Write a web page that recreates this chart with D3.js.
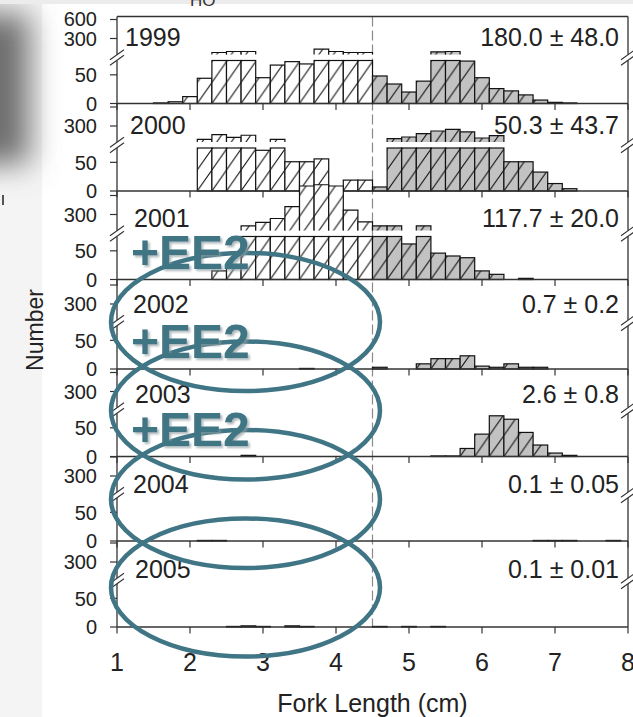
<!DOCTYPE html>
<html><head><meta charset="utf-8">
<script src="https://cdn.jsdelivr.net/npm/d3@7"></script>
<style>
body{margin:0;background:#fff}
svg{display:block}
text{font-family:"Liberation Sans",Arial,Helvetica,sans-serif}
</style>
</head><body>
<svg id="chart" width="633" height="717"></svg>
<script>
// ---------------- data ----------------
const years = ["1999","2000","2001","2002","2003","2004","2005"];
const densityLabels = ["180.0 ± 48.0","50.3 ± 43.7","117.7 ± 20.0","0.7 ± 0.2","2.6 ± 0.8","0.1 ± 0.05","0.1 ± 0.01"];
const binStarts = [1.5,1.7,1.9,2.1,2.3,2.5,2.7,2.9,3.1,3.3,3.5,3.7,3.9,4.1,4.3,4.5,4.7,4.9,5.1,5.3,5.5,5.7,5.9,6.1,6.3,6.5,6.7,6.9,7.1,7.3,7.5,7.7];
const binWidth = 0.2;
const counts1999 = [1,3,12,44,103,117,117,45,67,73,69,150,117,103,103,48,34,20,39,113,117,74,45,26,22,15,6,2,1,0,0,0];
const counts2000 = [0,0,0,113,178,140,170,71,113,51,51,56,7,19,19,7,122,145,192,230,253,216,131,164,51,51,33,13,4,0,0,0];
const counts2001 = [0,0,0,0,15,26,141,188,244,425,750,770,750,370,197,141,141,62,141,46,41,38,15,9,0,2,0,0,0,0,0,0];
const counts2002 = [0,0,0,0,0,0,0,0,0,0,1,0,0,0,0,3,0,0,9,18,18,23,5,3,9,3,3,0,0,0,0,0];
const counts2003 = [0,0,0,0,0,0,2,0,0,0,0,0,0,0,0,0,0,0,0,1,1,14,39,71,65,42,20,6,2,0,0,0];
const counts2004 = [0,0,0,1,1,0,0,0,0,0,0,0,0,0,0,0,0,0,0,0,0,0,0,0,0,0,1,1,1,0,0,1];
const counts2005 = [0,0,0,0,0,1,2,1,0,2,1,0,0,0,0,1,0,1,0,1,0,0,0,0,0,0,0,0,0,0,0,0];
const xTicks = [1,2,3,4,5,6,7,8];
const yTicks = [0,50,300,600];
const splitLength = 4.5;
const treatedYears = ["2001","2002","2003"];      // "+EE2" notes
const circledYears = ["2002","2003","2004","2005"]; // ellipses
const treatmentLabel = "+EE2";

const countsByYear = [counts1999,counts2000,counts2001,counts2002,counts2003,counts2004,counts2005];

// ---------------- layout ----------------
const W = 633, H = 717;
const plotTop = 16.5;
const panelBaselines = [103.5, 191, 279.5, 369, 456.5, 541, 627];   // stacked panel layout
const panelLabelY = [45.5, 133.5, 226.5, 312.5, 402.5, 492.5, 578];  // panel caption baselines
const panelLabelX = [125, 130, 134, 133, 135, 133, 135];
const base = d3.scaleLinear().domain(d3.range(years.length)).range(panelBaselines);
const lastBase = base(years.length - 1);
const panelTop = i => i === 0 ? plotTop : base(i - 1);
const x = d3.scaleLinear().domain([1,8]).range([117,628]);
const BREAK = 75;
const yLow = d3.scaleLinear().domain([0, BREAK]).range([0, -43]);
const yUp = d3.scaleLinear().domain([BREAK, 300, 600]).range([-49, -65, -84]);
const yPos = v => v <= BREAK ? yLow(v) : yUp(v);
const ellipseY = d3.scaleLinear().domain([0, circledYears.length - 1]).range([322, 587.5]);
const ink = "#222", teal = "#3f7584";

const svg = d3.select("#chart");
const defs = svg.append("defs");
const pw = x(binStarts[1]) - x(binStarts[0]);
const pat = defs.append("pattern").attr("id","hatch").attr("patternUnits","userSpaceOnUse")
  .attr("x", x(binStarts[0])).attr("y", 0).attr("width", pw).attr("height", 21);
pat.append("path").attr("d", `M0,21 L${pw},0 M${-pw},21 L0,0 M${pw},21 L${2*pw},0`)
  .attr("stroke", "#111").attr("stroke-width", 1).attr("fill","none");
defs.append("filter").attr("id","blur").attr("x","-100%").attr("y","-100%").attr("width","300%").attr("height","300%")
  .append("feGaussianBlur").attr("stdDeviation", 15);
const sh = defs.append("filter").attr("id","tshadow").attr("x","-20%").attr("y","-20%").attr("width","140%").attr("height","150%");
sh.append("feDropShadow").attr("dx",2).attr("dy",2).attr("stdDeviation",1.2).attr("flood-color","#8a9aa0").attr("flood-opacity",0.7);

// background (slide artefacts)
svg.append("rect").attr("width",W).attr("height",H).attr("fill","#fff");
svg.append("rect").attr("x",0).attr("y",0).attr("width",42).attr("height",H).attr("fill","#f4f4f4");
svg.append("rect").attr("x",-45).attr("y",14).attr("width",74).attr("height",150).attr("fill","#6e6e6e").attr("filter","url(#blur)");
svg.append("rect").attr("x",0).attr("y",0).attr("width",W).attr("height",4).attr("fill","#ececec");
svg.append("rect").attr("x",2).attr("y",195).attr("width",2).attr("height",10).attr("fill","#555");
svg.append("text").attr("x",190).attr("y",6).attr("font-size",17).attr("fill","#333").text("HO");

// dashed divider
svg.append("line").attr("x1",x(splitLength)).attr("x2",x(splitLength))
  .attr("y1",plotTop).attr("y2",lastBase).attr("stroke","#8a8a8a").attr("stroke-width",1.2)
  .attr("stroke-dasharray","10,4");

// top frame line
svg.append("line").attr("x1",x(1)).attr("x2",x(8)).attr("y1",plotTop).attr("y2",plotTop)
  .attr("stroke","#333").attr("stroke-width",1.3);

years.forEach((yr, i) => {
  const g = svg.append("g").attr("transform", `translate(0,${base(i)})`);
  const top = panelTop(i) - base(i);
  const gapMid = (yLow(BREAK) + yUp(BREAK)) / 2;
  // side axes with break
  [x(1), x(8)].forEach(ax => {
    g.append("line").attr("x1",ax).attr("x2",ax).attr("y1",0).attr("y2",gapMid+3)
      .attr("stroke","#333").attr("stroke-width",1.3);
    g.append("line").attr("x1",ax).attr("x2",ax).attr("y1",gapMid-3).attr("y2",top)
      .attr("stroke","#333").attr("stroke-width",1.3);
    [-2.8, 2.8].forEach(o => {
      g.append("line").attr("x1",ax-7).attr("x2",ax+7).attr("y1",gapMid+o+5).attr("y2",gapMid+o-5)
        .attr("stroke","#333").attr("stroke-width",1.1);
    });
  });
  // y ticks
  yTicks.forEach(t => {
    g.append("line").attr("x1",x(1)-7).attr("x2",x(1)).attr("y1",yPos(t)).attr("y2",yPos(t))
      .attr("stroke","#333").attr("stroke-width",1.2);
    if (t !== 600 || i === 0) {
      g.append("text").attr("x",97).attr("y",yPos(t) + (t === 600 ? -1 : 0)).attr("dy","0.36em")
        .attr("text-anchor","end").attr("font-size",20).attr("fill",ink).text(t);
    }
  });
  // bars
  const bars = binStarts.map((b, k) => ({b, v: countsByYear[i][k]})).filter(d => d.v > 0);
  const bg = g.append("g");
  bars.forEach(d => {
    const x0 = x(d.b), x1 = x(d.b + binWidth);
    const fill = d.b >= splitLength - 1e-9 ? "#c2c2c2" : "#fff";
    const yl = yLow(Math.min(d.v, BREAK));
    [fill, "url(#hatch)"].forEach(f => {
      bg.append("rect").attr("x",x0).attr("y",yl).attr("width",x1-x0).attr("height",-yl).attr("fill",f);
    });
    bg.append("rect").attr("x",x0).attr("y",yl).attr("width",x1-x0).attr("height",-yl)
      .attr("fill","none").attr("stroke","#111").attr("stroke-width",1.2);
    if (d.v > BREAK) {
      const yb = yUp(BREAK), yt = yUp(d.v);
      [fill, "url(#hatch)"].forEach(f => {
        bg.append("rect").attr("x",x0).attr("y",yt).attr("width",x1-x0).attr("height",yb-yt).attr("fill",f);
      });
      bg.append("path").attr("d",`M${x0},${yb}L${x0},${yt}L${x1},${yt}L${x1},${yb}`)
        .attr("fill","none").attr("stroke","#111").attr("stroke-width",1.2);
    }
  });
  // baseline + x ticks
  g.append("line").attr("x1",x(1)).attr("x2",x(8)).attr("y1",0).attr("y2",0)
    .attr("stroke","#333").attr("stroke-width",1.4);
  xTicks.forEach(t => {
    g.append("line").attr("x1",x(t)).attr("x2",x(t)).attr("y1",0).attr("y2",6.5)
      .attr("stroke","#333").attr("stroke-width",1.2);
  });
});

// panel captions (drawn above all bars)
years.forEach((yr, i) => {
  svg.append("text").attr("x",panelLabelX[i]).attr("y",panelLabelY[i]).attr("font-size",25).attr("fill",ink).text(yr);
  svg.append("text").attr("x",619).attr("y",panelLabelY[i]).attr("text-anchor","end").attr("font-size",25).attr("fill",ink).text(densityLabels[i]);
});

// x axis labels
xTicks.forEach(t => {
  svg.append("text").attr("x",x(t)).attr("y",lastBase+44).attr("text-anchor","middle")
    .attr("font-size",25).attr("fill",ink).text(t);
});
svg.append("text").attr("x",(x(1)+x(8))/2).attr("y",lastBase+85).attr("text-anchor","middle")
  .attr("font-size",25).attr("fill",ink).text("Fork Length (cm)");
svg.append("text").attr("transform",`translate(43,330) rotate(-90)`).attr("text-anchor","middle")
  .attr("font-size",23).attr("fill",ink).text("Number");

// annotations: ellipses and +EE2
circledYears.forEach((yr, k) => {
  svg.append("ellipse").attr("cx",245.5).attr("cy",ellipseY(k)).attr("rx",134.5).attr("ry",69)
    .attr("fill","none").attr("stroke",teal).attr("stroke-width",4.5);
});
treatedYears.forEach(yr => {
  const i = years.indexOf(yr);
  svg.append("text").attr("x",131).attr("y",base(i)-11).attr("font-size",48).attr("font-weight","bold")
    .attr("fill",teal).attr("filter","url(#tshadow)").text(treatmentLabel);
});
</script>
</body></html>
